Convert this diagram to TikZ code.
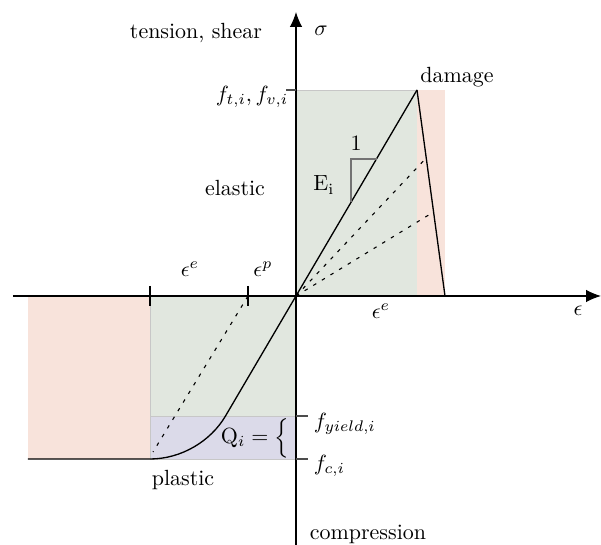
\documentclass[tikz,border=0pt]{standalone}
\usepackage{tikz}
\usetikzlibrary{positioning, arrows.meta, calc}
\definecolor{elasticgreen}{RGB}{225,231,223}
\definecolor{damagered}{RGB}{248,227,219}
\definecolor{plasticblue}{RGB}{219,218,233}

\begin{document}
\begin{tikzpicture}[
  x=0.016cm, y=0.016cm, >={Latex[length=2.4mm, width=2mm]},
  zone/.style={draw=black!22, line width=0.3pt},
  axis/.style={->, line width=0.5pt},
  law/.style={line width=0.6pt},
  unload/.style={line width=0.5pt, dash pattern=on 1.6pt off 3pt},
  tickmark/.style={line width=0.6pt},
  lbl/.style={inner sep=2pt},
]
  \useasboundingbox (-296,-249) rectangle (305,296);

  % zones
  \fill[elasticgreen, zone] (0,0) rectangle (121,206);
  \fill[damagered] (121,0) rectangle (149,206);
  \fill[damagered] (-268,0) rectangle (-146,-163);
  \fill[elasticgreen, zone] (-146,0) rectangle (0,-120);
  \fill[plasticblue, zone] (-146,-120) rectangle (0,-163);

  % points of the law
  \coordinate (O) at (0,0);
  \coordinate (peak) at (121,206);
  \coordinate (fail) at (149,0);
  \coordinate (d1) at (130.2,138);
  \coordinate (d2) at (137.6,84);
  \coordinate (lin) at (-70.5,-120);
  \coordinate (yld) at (-146,-163);
  \coordinate (cend) at (-268,-163);
  \coordinate (ep) at (-48,0);
  \coordinate (ee) at (-146,0);
  \coordinate (pl) at (-143,-156);

  % axes
  \draw[axis] (-283,0) -- (305,0);
  \draw[axis] (0,-249) -- (0,284);

  % ticks
  \draw[tickmark] ($(ee)+(0,10)$) -- ($(ee)-(0,10)$);
  \draw[tickmark] ($(ep)+(0,10)$) -- ($(ep)-(0,10)$);
  \draw[tickmark, black!70] (-10,206) -- (0,206);
  \draw[tickmark, black!70] (0,-120) -- (12,-120);
  \draw[tickmark, black!70] (0,-163) -- (12,-163);

  % stress-strain law
  \draw[law] (peak) -- (lin) .. controls (-85.5,-145.5) and (-115,-163) .. (yld) -- (cend);
  \draw[law] (peak) -- (fail);
  \draw[unload] (O) -- (d1);
  \draw[unload] (O) -- (d2);
  \draw[unload] (ep) -- (pl);

  % slope
  \draw[black!55, line width=0.5pt] (81,137) -- (55,137) -- (55,94);

  % labels
  \node[lbl] (one) at (60,153) {1};
  \node[lbl] (Ei) at (28,111) {$\mathrm{E_i}$};
  \node[lbl] (tens) at (-100,263) {tension, shear};
  \node[lbl] (sig) at (25,265) {$\sigma$};
  \node[lbl] (dmg) at (161,219) {damage};
  \node[anchor=east] (ft) at (0,199) {$f_{t,i}, f_{v,i}$};
  \node[lbl] (ela) at (-61,108) {elastic};
  \node[lbl] (eel) at (-106,27) {$\epsilon^e$};
  \node[lbl] (epl) at (-33,27) {$\epsilon^p$};
  \node[lbl] (eer) at (85,-15) {$\epsilon^e$};
  \node[lbl] (eps) at (282,-15) {$\epsilon$};
  \node[anchor=west] (fy) at (10,-128) {$f_{yield,i}$};
  \node[anchor=west] (fc) at (10,-170) {$f_{c,i}$};
  \node[lbl] (comp) at (72,-238) {compression};
  \node[lbl] (plas) at (-113,-184) {plastic};
  \node[anchor=east] (Q) at (1,-142) {$\mathrm{Q}_i = \Big\{$};
\end{tikzpicture}
\end{document}
